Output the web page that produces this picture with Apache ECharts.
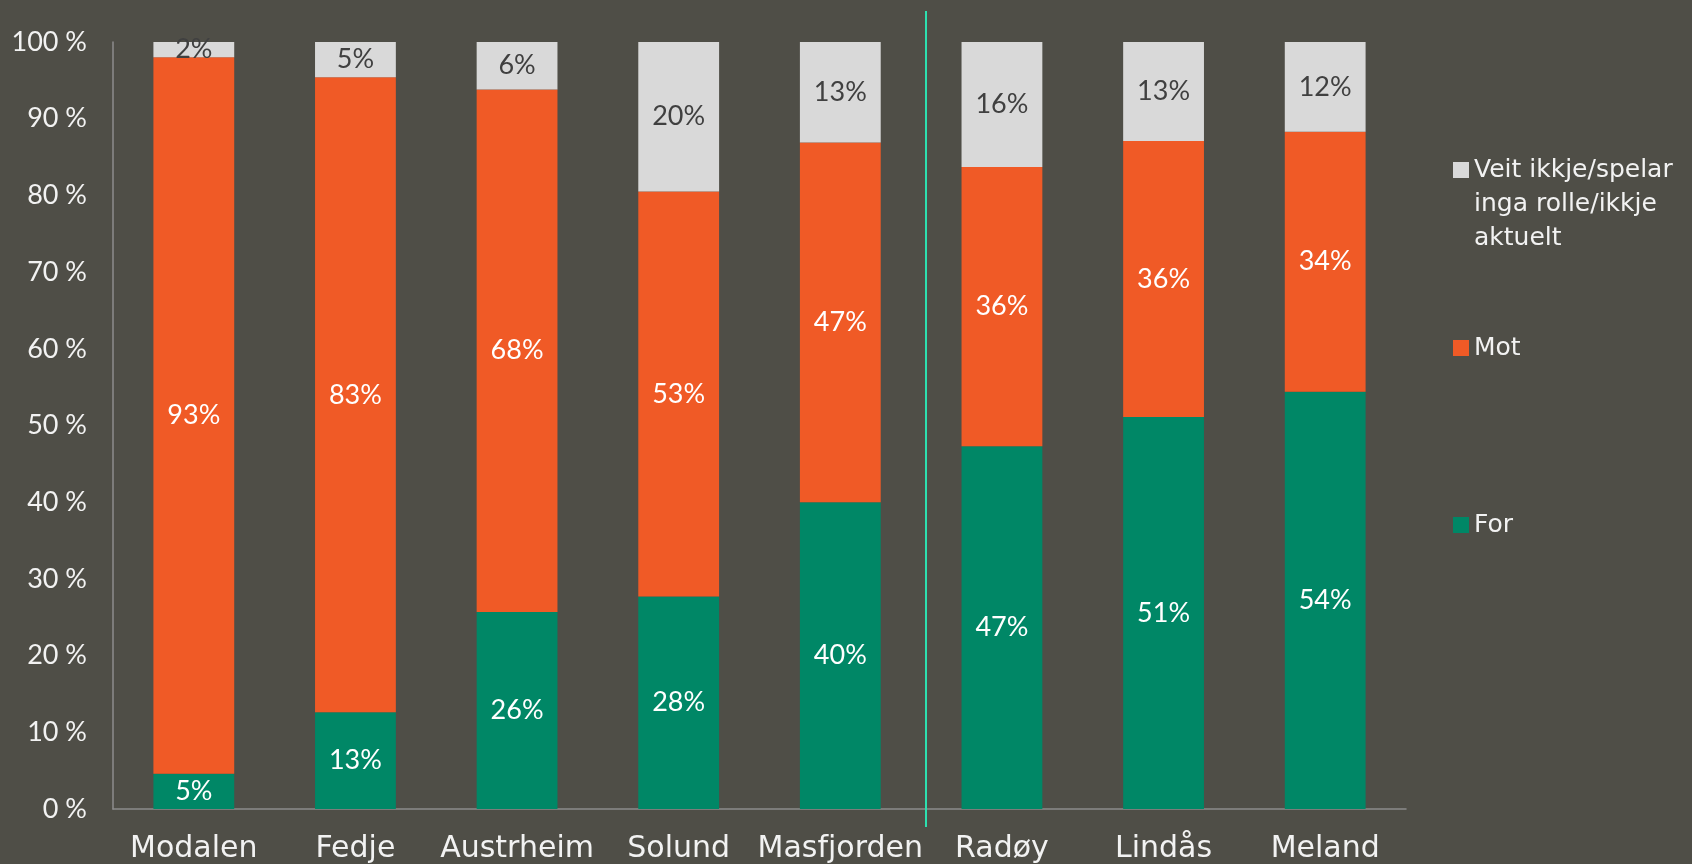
<!DOCTYPE html>
<html>
<head>
<meta charset="utf-8">
<script src="https://cdn.jsdelivr.net/npm/echarts@6/dist/echarts.min.js"></script>
<style>
  html, body { margin: 0; padding: 0; background: #4f4e47; }
  #chart { width: 1692px; height: 864px; }
</style>
</head>
<body>
<div id="chart"></div>
<script>
// kommunar
const categories = ["Modalen", "Fedje", "Austrheim", "Solund", "Masfjorden", "Radøy", "Lindås", "Meland"];

// prosentdelar per kommune
const forValues = [4.6, 12.6, 25.7, 27.7, 40.0, 47.3, 51.1, 54.4];
const motValues = [93.4, 82.8, 68.1, 52.8, 46.9, 36.4, 36.0, 33.9];
const veitValues = [2.0, 4.6, 6.2, 19.5, 13.1, 16.3, 12.9, 11.7];

const seriesNames = ["For", "Mot", "Veit ikkje/spelar\ninga rolle/ikkje\naktuelt"];
const yTicks = { min: 0, max: 100, interval: 10 };

const colors = { for: "#008766", mot: "#f05a26", veit: "#d9d9d9" };

const chart = echarts.init(document.getElementById("chart"));

function pctLabel(color) {
  return {
    show: true,
    position: "inside",
    color: color,
    fontFamily: "Lato",
    fontSize: 27,
    formatter: (p) => Math.round(p.value) + "%",
  };
}

function legendFor(name, top, formatter) {
  return {
    orient: "vertical",
    left: 1453,
    top: top,
    padding: 0,
    itemWidth: 16,
    itemHeight: 16,
    icon: "rect",
    selectedMode: false,
    data: [name],
    formatter: formatter || "{name}",
    textStyle: {
      color: "#f2f2f2",
      fontFamily: "DejaVu Sans",
      fontSize: 25,
      lineHeight: 34,
    },
  };
}

const option = {
  backgroundColor: "#4f4e47",
  animation: false,
  grid: { left: 113, right: 286, top: 42, bottom: 54 },
  legend: [
    // to tomme linjer først, så ikonet står ved første tekstlinje
    legendFor(seriesNames[2], 85, (n) => "\n\n" + n),
    legendFor(seriesNames[1], 331),
    legendFor(seriesNames[0], 508),
  ],
  xAxis: {
    type: "category",
    data: categories,
    axisLine: { lineStyle: { color: "#8c8c8c", width: 1.5 } },
    axisTick: { show: false },
    axisLabel: {
      interval: 0,
      color: "#f2f2f2",
      fontFamily: "DejaVu Sans",
      fontSize: 30,
      margin: 25,
    },
  },
  yAxis: {
    type: "value",
    min: yTicks.min,
    max: yTicks.max,
    interval: yTicks.interval,
    axisLine: { show: true, lineStyle: { color: "#8c8c8c", width: 1.5 } },
    axisTick: { show: false },
    splitLine: { show: false },
    axisLabel: {
      color: "#f2f2f2",
      fontFamily: "Lato",
      fontSize: 27,
      margin: 26,
      formatter: "{value} %",
    },
  },
  series: [
    {
      name: seriesNames[0],
      type: "bar",
      stack: "total",
      barCategoryGap: "50%",
      data: forValues,
      itemStyle: { color: colors.for },
      label: pctLabel("#ffffff"),
    },
    {
      name: seriesNames[1],
      type: "bar",
      stack: "total",
      data: motValues,
      itemStyle: { color: colors.mot },
      label: pctLabel("#ffffff"),
    },
    {
      name: seriesNames[2],
      type: "bar",
      stack: "total",
      data: veitValues,
      itemStyle: { color: colors.veit },
      label: pctLabel("#404040"),
    },
  ],
};

chart.setOption(option);

// skiljelinje mellom Masfjorden og Radøy
const xa = chart.convertToPixel({ xAxisIndex: 0 }, "Masfjorden");
const xb = chart.convertToPixel({ xAxisIndex: 0 }, "Radøy");
const sepX = Math.round((xa + xb) / 2) + 5;
chart.setOption({
  graphic: [
    {
      type: "line",
      shape: { x1: sepX, y1: 11, x2: sepX, y2: 827 },
      style: { stroke: "#2de0b0", lineWidth: 2 },
      z: 10,
    },
  ],
});
</script>
</body>
</html>
